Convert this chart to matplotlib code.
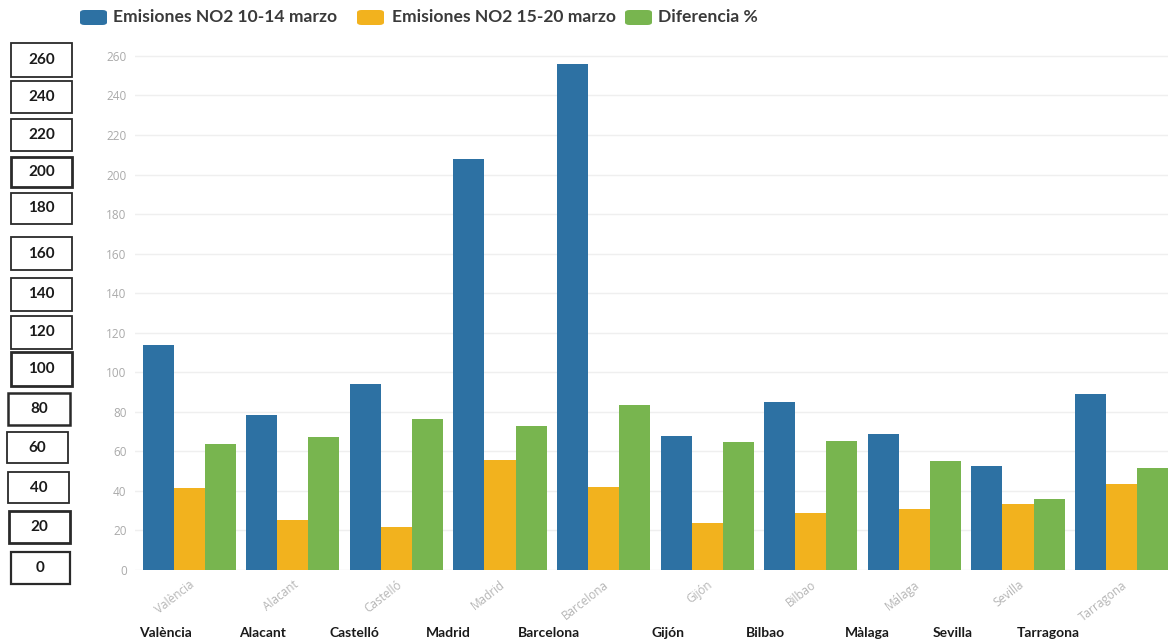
import matplotlib
matplotlib.use("Agg")
import matplotlib.pyplot as plt
import numpy as np
from matplotlib.patches import Rectangle, FancyBboxPatch

# ---------------- data ----------------
cities_axis = ["València", "Alacant", "Castelló", "Madrid", "Barcelona",
               "Gijón", "Bilbao", "Málaga", "Sevilla", "Tarragona"]
cities_bold = ["València", "Alacant", "Castelló", "Madrid", "Barcelona",
               "Gijón", "Bilbao", "Màlaga", "Sevilla", "Tarragona"]
no2_10_14 = [114, 78.5, 94, 208, 256, 68, 85, 69, 52.5, 89]
no2_15_20 = [41.5, 25.5, 21.5, 55.5, 42, 24, 29, 31, 33.5, 43.5]
diferencia = [63.5, 67.5, 76.5, 73, 83.5, 64.5, 65.5, 55, 36, 51.5]
series_names = ["Emisiones NO2 10-14 marzo", "Emisiones NO2 15-20 marzo", "Diferencia %"]
yticks = list(range(0, 261, 20))
box_labels = ["260", "240", "220", "200", "180", "160", "140", "120",
              "100", "80", "60", "40", "20", "0"]

colors = ["#2D71A3", "#F2B21E", "#78B54F"]

# ---------------- layout ----------------
W, H = 1168, 643
fig = plt.figure(figsize=(W / 100, H / 100), dpi=100)

def fx(px):
    return px / W

def fy(py):
    return 1 - py / H

ax_left, ax_right = 135, 1168
ax_bottom, ax_top = 570, 52
ax = fig.add_axes([fx(ax_left), fy(ax_bottom), fx(ax_right - ax_left),
                   (ax_bottom - ax_top) / H])

x = np.arange(len(cities_axis))
bw = 0.30
for k, (vals, c) in enumerate(zip([no2_10_14, no2_15_20, diferencia], colors)):
    ax.bar(x + (k - 1) * bw, vals, width=bw, color=c, edgecolor="none",
           zorder=3, label=series_names[k])

ax.set_ylim(0, 262)
ax.set_xlim(-0.523, 9.448)
ax.set_yticks(yticks)
ax.set_yticklabels([str(t) for t in yticks], fontsize=8.5, color="#aaaaaa",
                   family="Open Sans")
ax.set_xticks(x)
ax.set_xticklabels(cities_axis, rotation=38, ha="right", va="top",
                   rotation_mode="anchor", fontsize=8.5, color="#b5b5b5",
                   family="Open Sans")
ax.tick_params(axis="both", length=0, pad=6)
ax.grid(axis="y", color="#efefef", linewidth=1, zorder=0)
for s in ax.spines.values():
    s.set_visible(False)

# ---------------- legend (top) ----------------
legend_items = [(80, 113), (357, 392), (625, 658)]
for (sx, tx), c, name in zip(legend_items, colors, series_names):
    fig.patches.append(FancyBboxPatch((fx(sx), fy(25)), fx(27), 15 / H,
                                      boxstyle="round,pad=0,rounding_size=0.004",
                                      transform=fig.transFigure, facecolor=c,
                                      edgecolor="none"))
    fig.text(fx(tx), fy(17.5), name, fontsize=12.6, color="#3a3a3a",
             family="Lato", fontweight="bold", va="center", ha="left")

# ---------------- left boxes ----------------
boxes = [(11, 43, 72, 77, 1.3), (11, 81, 72, 113, 1.3), (11, 119, 72, 151, 1.3),
         (11, 157, 72, 187, 2.0), (11, 193, 72, 224, 1.3), (11, 237, 72, 270, 1.3),
         (11, 278, 72, 311, 1.3), (11, 316, 72, 349, 1.3), (11, 352, 72, 386, 2.0),
         (8, 393, 70, 425, 1.8), (7, 432, 68, 463, 1.3), (8, 472, 69, 503, 1.3),
         (9, 511, 70, 543, 2.0), (11, 552, 70, 584, 1.6)]
for (x0, y0, x1, y1, lw), lab in zip(boxes, box_labels):
    fig.patches.append(Rectangle((fx(x0), fy(y1)), fx(x1 - x0), (y1 - y0) / H,
                                 transform=fig.transFigure, facecolor="white",
                                 edgecolor="#2a2a2a", linewidth=lw))
    fig.text(fx((x0 + x1) / 2), fy((y0 + y1) / 2), lab, fontsize=11,
             fontweight="bold", family="Lato", color="#1a1a1a",
             ha="center", va="center")

# ---------------- bold city labels (bottom) ----------------
bold_centers = [165, 263, 354, 448, 549, 668, 765, 867, 953, 1048]
for cx, name in zip(bold_centers, cities_bold):
    fig.text(fx(cx), fy(633), name, fontsize=10, fontweight="bold",
             family="Lato", color="#1a1a1a", ha="center", va="center")

fig.savefig("out.png", dpi=100)
